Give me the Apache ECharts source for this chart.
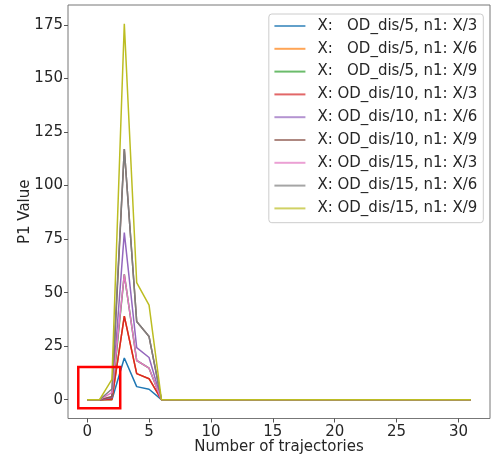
<!DOCTYPE html>
<html>
<head>
<meta charset="utf-8">
<script src="https://cdn.jsdelivr.net/npm/echarts@6/dist/echarts.min.js"></script>
<style>html,body{margin:0;padding:0;background:#fff;}#c{width:492px;height:460px;}</style>
</head>
<body>
<div id="c"></div>
<script>
const xValues = [0,1,2,3,4,5,6,7,8,9,10,11,12,13,14,15,16,17,18,19,20,21,22,23,24,25,26,27,28,29,30,31];
const zeros26 = [0,0,0,0,0,0,0,0,0,0,0,0,0,0,0,0,0,0,0,0,0,0,0,0,0,0];
const s_dis5_X3  = [0,0,0,19.5,6.1,4.9].concat(zeros26);
const s_dis5_X6  = [0,0,0,39,12.2,9.8].concat(zeros26);
const s_dis5_X9  = [0,0,0.6,58.5,18.3,14.7].concat(zeros26);
const s_dis10_X3 = [0,0,0.3,39,12.2,9.8].concat(zeros26);
const s_dis10_X6 = [0,0,1,78,24.3,19.7].concat(zeros26);
const s_dis10_X9 = [0,0,1.5,117,36.5,29.5].concat(zeros26);
const s_dis15_X3 = [0,0,3.3,58.5,18.3,14.7].concat(zeros26);
const s_dis15_X6 = [0,0,5,117,36.5,29.5].concat(zeros26);
const s_dis15_X9 = [0,0,9.5,175.5,54.7,44.2].concat(zeros26);

const seriesNames = [
  'X:   OD_dis/5, n1: X/3',
  'X:   OD_dis/5, n1: X/6',
  'X:   OD_dis/5, n1: X/9',
  'X: OD_dis/10, n1: X/3',
  'X: OD_dis/10, n1: X/6',
  'X: OD_dis/10, n1: X/9',
  'X: OD_dis/15, n1: X/3',
  'X: OD_dis/15, n1: X/6',
  'X: OD_dis/15, n1: X/9'
];
const seriesValues = [s_dis5_X3, s_dis5_X6, s_dis5_X9, s_dis10_X3, s_dis10_X6, s_dis10_X9, s_dis15_X3, s_dis15_X6, s_dis15_X9];
const colors = ['#1f77b4','#ff7f0e','#2ca02c','#d62728','#9467bd','#8c564b','#e377c2','#7f7f7f','#bcbd22'];

const xTicks = [0,5,10,15,20,25,30];
const yTicks = [0,25,50,75,100,125,150,175];
const xRange = [-1.55, 32.55];
const yRange = [-8.78, 184.3];
// highlighted region (red box) in data coordinates
const boxCorners = [[-0.72, 15.3], [2.67, -4.0]];

const FONT = 'DejaVu Sans';
const series = seriesNames.map((n, i) => ({
  name: n,
  type: 'line',
  data: xValues.map((x, j) => [x, seriesValues[i][j]]),
  showSymbol: false,
  symbol: 'none',
  lineStyle: { width: 1.5, color: colors[i] },
  itemStyle: { color: colors[i] },
  emphasis: { disabled: true },
  z: 2 + i
}));
series.push({
  type: 'line',
  data: [],
  silent: true,
  z: 50,
  markArea: {
    silent: true,
    z: 50,
    itemStyle: { color: 'rgba(0,0,0,0)', borderColor: '#ff0000', borderWidth: 2.5 },
    label: { show: false },
    data: [[{ coord: boxCorners[0] }, { coord: boxCorners[1] }]]
  }
});

const chart = echarts.init(document.getElementById('c'), null, { renderer: 'canvas' });
chart.setOption({
  animation: false,
  backgroundColor: '#fff',
  textStyle: { fontFamily: FONT },
  grid: { left: 68, right: 2, top: 5, bottom: 41.5, outerBoundsMode: 'none', containLabel: false, show: true, borderColor: '#777', borderWidth: 1, backgroundColor: 'transparent' },
  legend: {
    data: seriesNames,
    orient: 'vertical',
    right: 8.7,
    top: 14,
    padding: [4, 6, 6.3, 5.6],
    itemGap: 6.8,
    itemWidth: 31,
    itemHeight: 14,
    icon: 'path://M0,0 L31,0 L31,2 L0,2 Z',
    symbolKeepAspect: true,
    backgroundColor: '#fff',
    borderColor: '#ccc',
    borderWidth: 1,
    borderRadius: 3,
    itemStyle: { opacity: 0.7 },
    textStyle: { fontFamily: FONT, fontSize: 15, color: '#262626', lineHeight: 16, padding: [0, 0, 0, 7] }
  },
  xAxis: {
    type: 'value',
    min: xRange[0], max: xRange[1],
    splitLine: { show: false },
    axisLine: { show: false, onZero: false },
    axisTick: { show: true, inside: false, customValues: xTicks, length: 4, lineStyle: { color: '#555' } },
    axisLabel: { customValues: xTicks, fontFamily: FONT, fontSize: 15, color: '#262626', margin: 6 },
    name: 'Number of trajectories',
    nameLocation: 'middle',
    nameGap: 21,
    nameMoveOverlap: false,
    nameTextStyle: { fontFamily: FONT, fontSize: 15, color: '#262626', verticalAlign: 'top' }
  },
  yAxis: {
    type: 'value',
    min: yRange[0], max: yRange[1],
    splitLine: { show: false },
    axisLine: { show: false, onZero: false },
    axisTick: { show: true, inside: false, customValues: yTicks, length: 4, lineStyle: { color: '#555' } },
    axisLabel: { customValues: yTicks, fontFamily: FONT, fontSize: 15, color: '#262626', margin: 5 },
    name: 'P1 Value',
    nameLocation: 'middle',
    nameGap: 35,
    nameMoveOverlap: false,
    nameTextStyle: { fontFamily: FONT, fontSize: 15, color: '#262626' }
  },
  series: series
});
</script>
</body>
</html>
